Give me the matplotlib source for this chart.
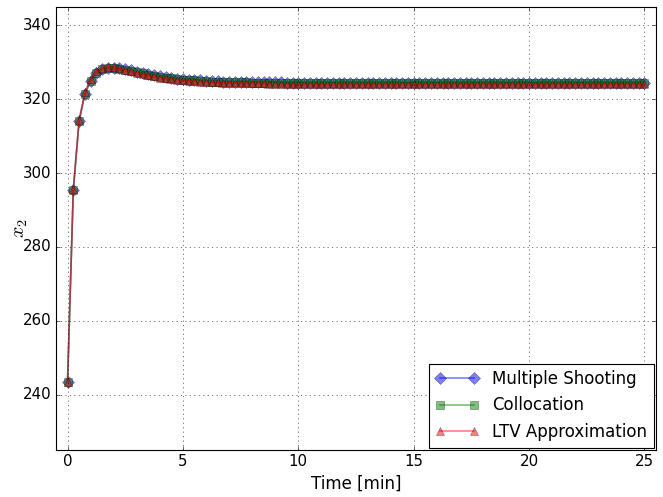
import matplotlib
matplotlib.use('Agg')
import matplotlib.pyplot as plt
import numpy as np

plt.style.use('classic')

# time grid, 0.25 min steps
t = [i * 0.25 for i in range(101)]

# multiple shooting
ms = [243.5, 295.5, 314.0, 321.5, 325.0, 327.2, 328.2, 328.6, 328.6, 328.4,
      328.1, 327.8, 327.4, 327.1, 326.8, 326.5, 326.2, 326.0, 325.8, 325.6,
      325.4, 325.3, 325.2, 325.1, 325.0, 324.9, 324.85, 324.8, 324.75, 324.7,
      324.7, 324.65, 324.6, 324.6, 324.6, 324.55, 324.55, 324.55, 324.5, 324.5,
      324.5, 324.5, 324.5, 324.5, 324.5, 324.45, 324.45, 324.45, 324.45, 324.45,
      324.45, 324.45, 324.45, 324.45, 324.45, 324.45, 324.45, 324.45, 324.45, 324.45,
      324.45, 324.45, 324.45, 324.45, 324.45, 324.45, 324.45, 324.45, 324.45, 324.45,
      324.45, 324.45, 324.45, 324.45, 324.45, 324.45, 324.45, 324.45, 324.45, 324.45,
      324.45, 324.45, 324.45, 324.45, 324.45, 324.45, 324.45, 324.45, 324.45, 324.45,
      324.45, 324.45, 324.45, 324.45, 324.45, 324.45, 324.45, 324.45, 324.45, 324.45,
      324.45]

# collocation
col = [243.5, 295.5, 314.0, 321.4, 324.9, 327.1, 328.1, 328.5, 328.5, 328.3,
       328.0, 327.7, 327.3, 327.0, 326.7, 326.4, 326.1, 325.9, 325.7, 325.5,
       325.3, 325.2, 325.1, 325.0, 324.9, 324.8, 324.75, 324.7, 324.65, 324.6,
       324.6, 324.55, 324.5, 324.5, 324.5, 324.45, 324.45, 324.45, 324.4, 324.4,
       324.4, 324.4, 324.4, 324.4, 324.4, 324.4, 324.4, 324.4, 324.4, 324.4,
       324.4, 324.4, 324.4, 324.4, 324.4, 324.4, 324.4, 324.4, 324.4, 324.4,
       324.4, 324.4, 324.4, 324.4, 324.4, 324.4, 324.4, 324.4, 324.4, 324.4,
       324.4, 324.4, 324.4, 324.4, 324.4, 324.4, 324.4, 324.4, 324.4, 324.4,
       324.4, 324.4, 324.4, 324.4, 324.4, 324.4, 324.4, 324.4, 324.4, 324.4,
       324.4, 324.4, 324.4, 324.4, 324.4, 324.4, 324.4, 324.4, 324.4, 324.4,
       324.4]

# LTV approximation
ltv = [243.5, 295.7, 314.3, 321.9, 325.5, 327.6, 328.5, 328.8, 328.7, 328.4,
       328.0, 327.6, 327.2, 326.8, 326.5, 326.2, 325.9, 325.7, 325.5, 325.3,
       325.1, 325.0, 324.9, 324.8, 324.7, 324.6, 324.55, 324.5, 324.45, 324.4,
       324.4, 324.35, 324.3, 324.3, 324.3, 324.25, 324.25, 324.25, 324.2, 324.2,
       324.2, 324.2, 324.2, 324.2, 324.2, 324.2, 324.2, 324.2, 324.2, 324.2,
       324.2, 324.2, 324.2, 324.2, 324.2, 324.2, 324.2, 324.2, 324.2, 324.2,
       324.2, 324.2, 324.2, 324.2, 324.2, 324.2, 324.2, 324.2, 324.2, 324.2,
       324.2, 324.2, 324.2, 324.2, 324.2, 324.2, 324.2, 324.2, 324.2, 324.2,
       324.2, 324.2, 324.2, 324.2, 324.2, 324.2, 324.2, 324.2, 324.2, 324.2,
       324.2, 324.2, 324.2, 324.2, 324.2, 324.2, 324.2, 324.2, 324.2, 324.2,
       324.2]

fig = plt.figure(figsize=(663 / 80.0, 497 / 80.0), dpi=80)
ax = fig.add_axes([56 / 663.0, 1 - 450 / 497.0, 600 / 663.0, 443 / 497.0])

ax.plot(t, ms, color='b', marker='D', markersize=8, alpha=0.5, lw=1.5,
        label='Multiple Shooting')
ax.plot(t, col, color='g', marker='s', markersize=8, alpha=0.5, lw=1.5,
        label='Collocation')
ax.plot(t, ltv, color='r', marker='^', markersize=8, alpha=0.5, lw=1.5,
        label='LTV Approximation')

ax.set_xlim(-0.5, 25.5)
ax.set_ylim(225, 345)
ax.set_xticks([0, 5, 10, 15, 20, 25])
ax.set_yticks([240, 260, 280, 300, 320, 340])
ax.grid(True)
ax.set_xlabel('Time [min]', fontsize=15)
ax.set_ylabel('$x_2$', fontsize=18)
ax.yaxis.set_label_coords(-0.043, 0.5)
ax.tick_params(labelsize=13.5)
ax.legend(loc='lower right', fontsize=15, numpoints=2, handlelength=2.6,
          handletextpad=0.8, borderaxespad=0.15)

fig.savefig('out.png', dpi=80)
